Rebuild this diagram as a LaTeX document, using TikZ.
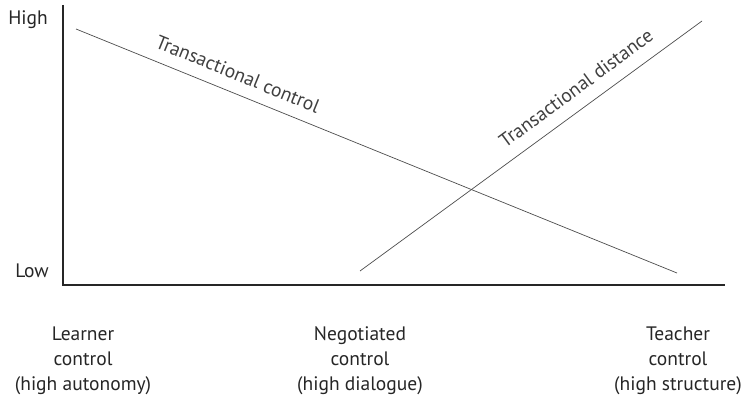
\documentclass[tikz,border=0pt]{standalone}
\usepackage{fontspec}
\setmainfont{PT Sans}
\begin{document}
\begin{tikzpicture}[x=1pt,y=-1pt,
  axis/.style={line width=1.3pt,black!85},
  trend/.style={line width=0.7pt,black!70},
  lab/.style={font=\fontsize{19.5}{25}\selectfont,text=black!85,inner sep=0pt},
  bot/.style={lab,align=center,anchor=base},
  rot/.style={font=\fontsize{19.5}{22}\selectfont,text=black!75,inner sep=0pt}]
\useasboundingbox (0,0) rectangle (747,396);
\coordinate (ytop) at (63,5);
\coordinate (orig) at (63,285);
\coordinate (xend) at (725,285);
\draw[axis] (ytop) -- (orig) -- (xend);
\node[lab,anchor=base east] (high) at (48,25) {High};
\node[lab,anchor=base east] (low) at (49,277) {Low};
\coordinate (tc1) at (76,29);
\coordinate (tc2) at (677,273);
\coordinate (td1) at (360,271);
\coordinate (td2) at (702,21);
\draw[trend] (tc1) -- (tc2);
\draw[trend] (td1) -- (td2);
\node[rot,rotate=-22.1] (tclab) at (238,74) {Transactional control};
\node[rot,rotate=36.2] (tdlab) at (576,88) {Transactional distance};
\node[bot] (learner) at (83,390) {Learner\\control\\(high autonomy)};
\node[bot] (nego) at (360,390) {Negotiated\\control\\(high dialogue)};
\node[bot] (teacher) at (678,390) {Teacher\\control\\(high structure)};
\end{tikzpicture}
\end{document}
